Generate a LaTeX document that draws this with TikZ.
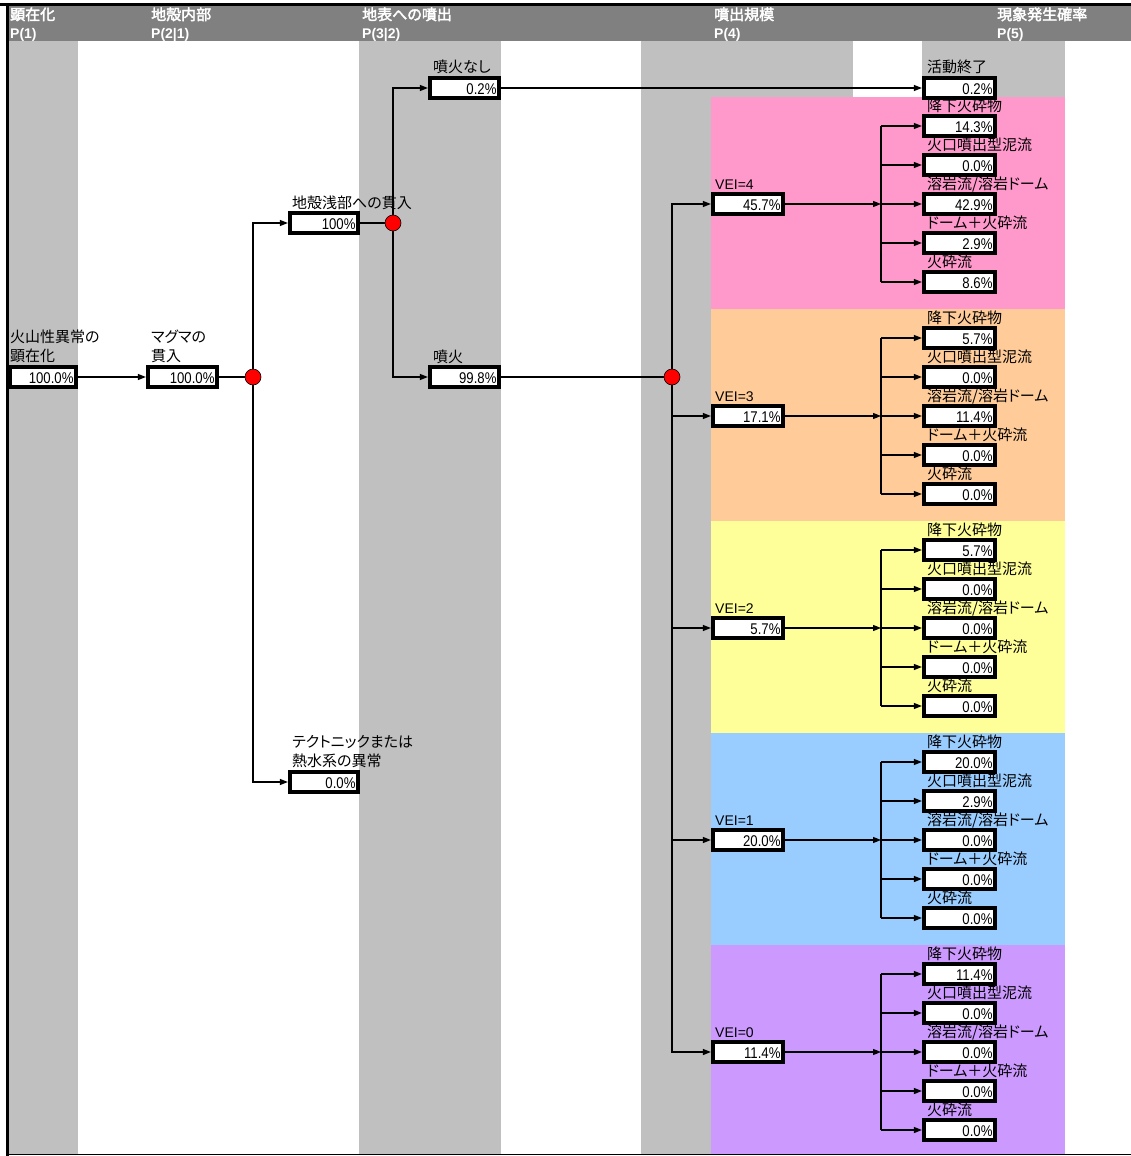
\documentclass[tikz,border=0pt]{standalone}
\usepackage{fontspec}
\setmainfont{Liberation Sans}
\newfontfamily\jp[AutoFakeBold=2.5,RawFeature={+palt}]{Noto Sans CJK JP}
\newfontfamily\numf[FakeStretch=0.85]{Liberation Sans}
\usetikzlibrary{arrows.meta}
\pgfdeclarelayer{bg}
\pgfdeclarelayer{mid}
\pgfsetlayers{bg,mid,main}
\definecolor{hdr}{HTML}{808080}
\definecolor{colg}{HTML}{C0C0C0}
\definecolor{vpink}{HTML}{FF99CC}
\definecolor{vorange}{HTML}{FFCC99}
\definecolor{vyellow}{HTML}{FFFF99}
\definecolor{vblue}{HTML}{99CCFF}
\definecolor{vpurple}{HTML}{CC99FF}
\definecolor{dotred}{HTML}{FF0000}
\begin{document}
\begin{tikzpicture}[x=1pt,y=-1pt,
  valbox/.style={draw=black, line width=4.2pt, fill=white, minimum height=20pt,
    text width=#1, align=right, inner xsep=2.5pt, inner ysep=0pt,
    text height=13.5pt, text depth=0pt, font=\numf\fontsize{15.5}{17}\selectfont},
  lbl/.style={anchor=base west, inner sep=0pt, font=\jp\fontsize{15}{19}\selectfont},
  lbltwo/.style={anchor=north west, inner sep=0pt, align=left, font=\jp\fontsize{15}{19}\selectfont},
  vlbl/.style={anchor=base west, inner sep=0pt, font=\fontsize{14}{15}\selectfont},
  hdj/.style={anchor=base west, inner sep=0pt, text=white, font=\jp\bfseries\fontsize{15}{16}\selectfont},
  hdp/.style={anchor=base west, inner sep=0pt, text=white, font=\bfseries\fontsize{14}{15}\selectfont},
  dot/.style={circle, draw=black, line width=0.6pt, fill=dotred, minimum size=16pt, inner sep=0pt},
  conn/.style={line width=1.2pt, draw=black},
  arr/.style={conn, -{Triangle[length=8pt,width=6pt]}}
]
\useasboundingbox (0,0) rectangle (1131,1156);
\begin{pgfonlayer}{bg}
  \fill[white] (0,0) rectangle (1131,1156);
  % header
  \fill[hdr] (8,6) rectangle (1131,41);
  % light gray columns
  \fill[colg] (9,41) rectangle (78,1154);
  \fill[colg] (359,41) rectangle (501,1154);
  \fill[colg] (641,41) rectangle (711,1154);
  \fill[colg] (711,41) rectangle (853,97);
  \fill[colg] (922,41) rectangle (1065,97);
  % colour bands
  \fill[vpink]   (711,97)  rectangle (1065,309);
  \fill[vorange] (711,309) rectangle (1065,521);
  \fill[vyellow] (711,521) rectangle (1065,733);
  \fill[vblue]   (711,733) rectangle (1065,945);
  \fill[vpurple] (711,945) rectangle (1065,1154);
  % frame lines
  \fill[black] (0,3) rectangle (1131,6);
  \fill[black] (6,3) rectangle (9,1156);
  \draw[line width=1.5pt] (8,1154.5) -- (1131,1154.5);
\end{pgfonlayer}

% header texts
\node[hdj] (h1) at (10,20) {顕在化};
\node[hdp] (p1) at (10,38) {P(1)};
\node[hdj] (h2) at (151,20) {地殻内部};
\node[hdp] (p2) at (151,38) {P(2|1)};
\node[hdj] (h3) at (362,20) {地表への噴出};
\node[hdp] (p3) at (362,38) {P(3|2)};
\node[hdj] (h4) at (714,20) {噴出規模};
\node[hdp] (p4) at (714,38) {P(4)};
\node[hdj] (h5) at (997,20) {現象発生確率};
\node[hdp] (p5) at (997,38) {P(5)};

% left part of the tree
\node[valbox=61pt] (b1) at (43,377) {100.0\%};
\node[lbltwo] (l1) at (10,330) {火山性異常の\\顕在化};
\node[valbox=64pt] (b2) at (182.5,377) {100.0\%};
\node[lbltwo] (l2) at (151,330) {マグマの\\貫入};
\node[dot] (c1) at (253,377) {};
\node[valbox=63pt] (b3) at (324,223) {100\%};
\node[lbl] (l3) at (292,208) {地殻浅部への貫入};
\node[valbox=63pt] (b4) at (324,782) {0.0\%};
\node[lbltwo] (l4) at (292,735) {テクトニックまたは\\熱水系の異常};
\node[dot] (c2) at (393,223) {};
\node[valbox=64pt] (b5) at (464.5,88) {0.2\%};
\node[lbl] (l5) at (433,73) {噴火なし};
\node[valbox=64pt] (b6) at (464.5,377) {99.8\%};
\node[lbl] (l6) at (433,362) {噴火};
\node[dot] (c3) at (672,377) {};
\node[valbox=66pt] (f00) at (959.5,88) {0.2\%};
\node[lbl] (lf00) at (927,73) {活動終了};

\begin{pgfonlayer}{mid}
  \draw[arr] (b1) -- (b2);
  \draw[conn] (b2) -- (c1);
  \draw[arr] (c1.center) |- (b3.west);
  \draw[arr] (c1.center) |- (b4.west);
  \draw[conn] (b3) -- (c2);
  \draw[arr] (c2.center) |- (b5.west);
  \draw[arr] (c2.center) |- (b6.west);
  \draw[arr] (b5) -- (f00);
  \draw[conn] (b6) -- (c3);
\end{pgfonlayer}

% VEI branches
\foreach \v/\t/\vv/\pa/\pb/\pc/\pd/\pe in {
  4/97/45.7/14.3/0.0/42.9/2.9/8.6,
  3/309/17.1/5.7/0.0/11.4/0.0/0.0,
  2/521/5.7/5.7/0.0/0.0/0.0/0.0,
  1/733/20.0/20.0/2.9/0.0/0.0/0.0,
  0/945/11.4/11.4/0.0/0.0/0.0/0.0}{
  \pgfmathsetmacro\vy{\t+107}
  \node[valbox=65pt] (v\v) at (748,\vy) {\vv\%};
  \node[vlbl] (lv\v) at (715,\vy-15) {VEI=\v};
  \foreach \i/\nm/\pv in {0/{降下火砕物}/\pa, 1/{火口噴出型泥流}/\pb, 2/{溶岩流/溶岩ドーム}/\pc, 3/{ドーム＋火砕流}/\pd, 4/{火砕流}/\pe}{
    \pgfmathsetmacro\fy{\t+29+39*\i}
    \node[valbox=66pt] (f\v\i) at (959.5,\fy) {\pv\%};
    \node[lbl] (lf\v\i) at (927,\fy-15) {\nm};
  }
  \coordinate (k\v) at (881,\vy);
  \begin{pgfonlayer}{mid}
    \draw[arr] (c3.center) |- (v\v.west);
    \draw[arr] (v\v) -- (k\v);
    \draw[conn] (k\v |- f\v0.west) -- (k\v |- f\v4.west);
    \foreach \i in {0,...,4}{
      \draw[arr] (k\v |- f\v\i.west) -- (f\v\i.west);
    }
  \end{pgfonlayer}
}
\end{tikzpicture}
\end{document}
